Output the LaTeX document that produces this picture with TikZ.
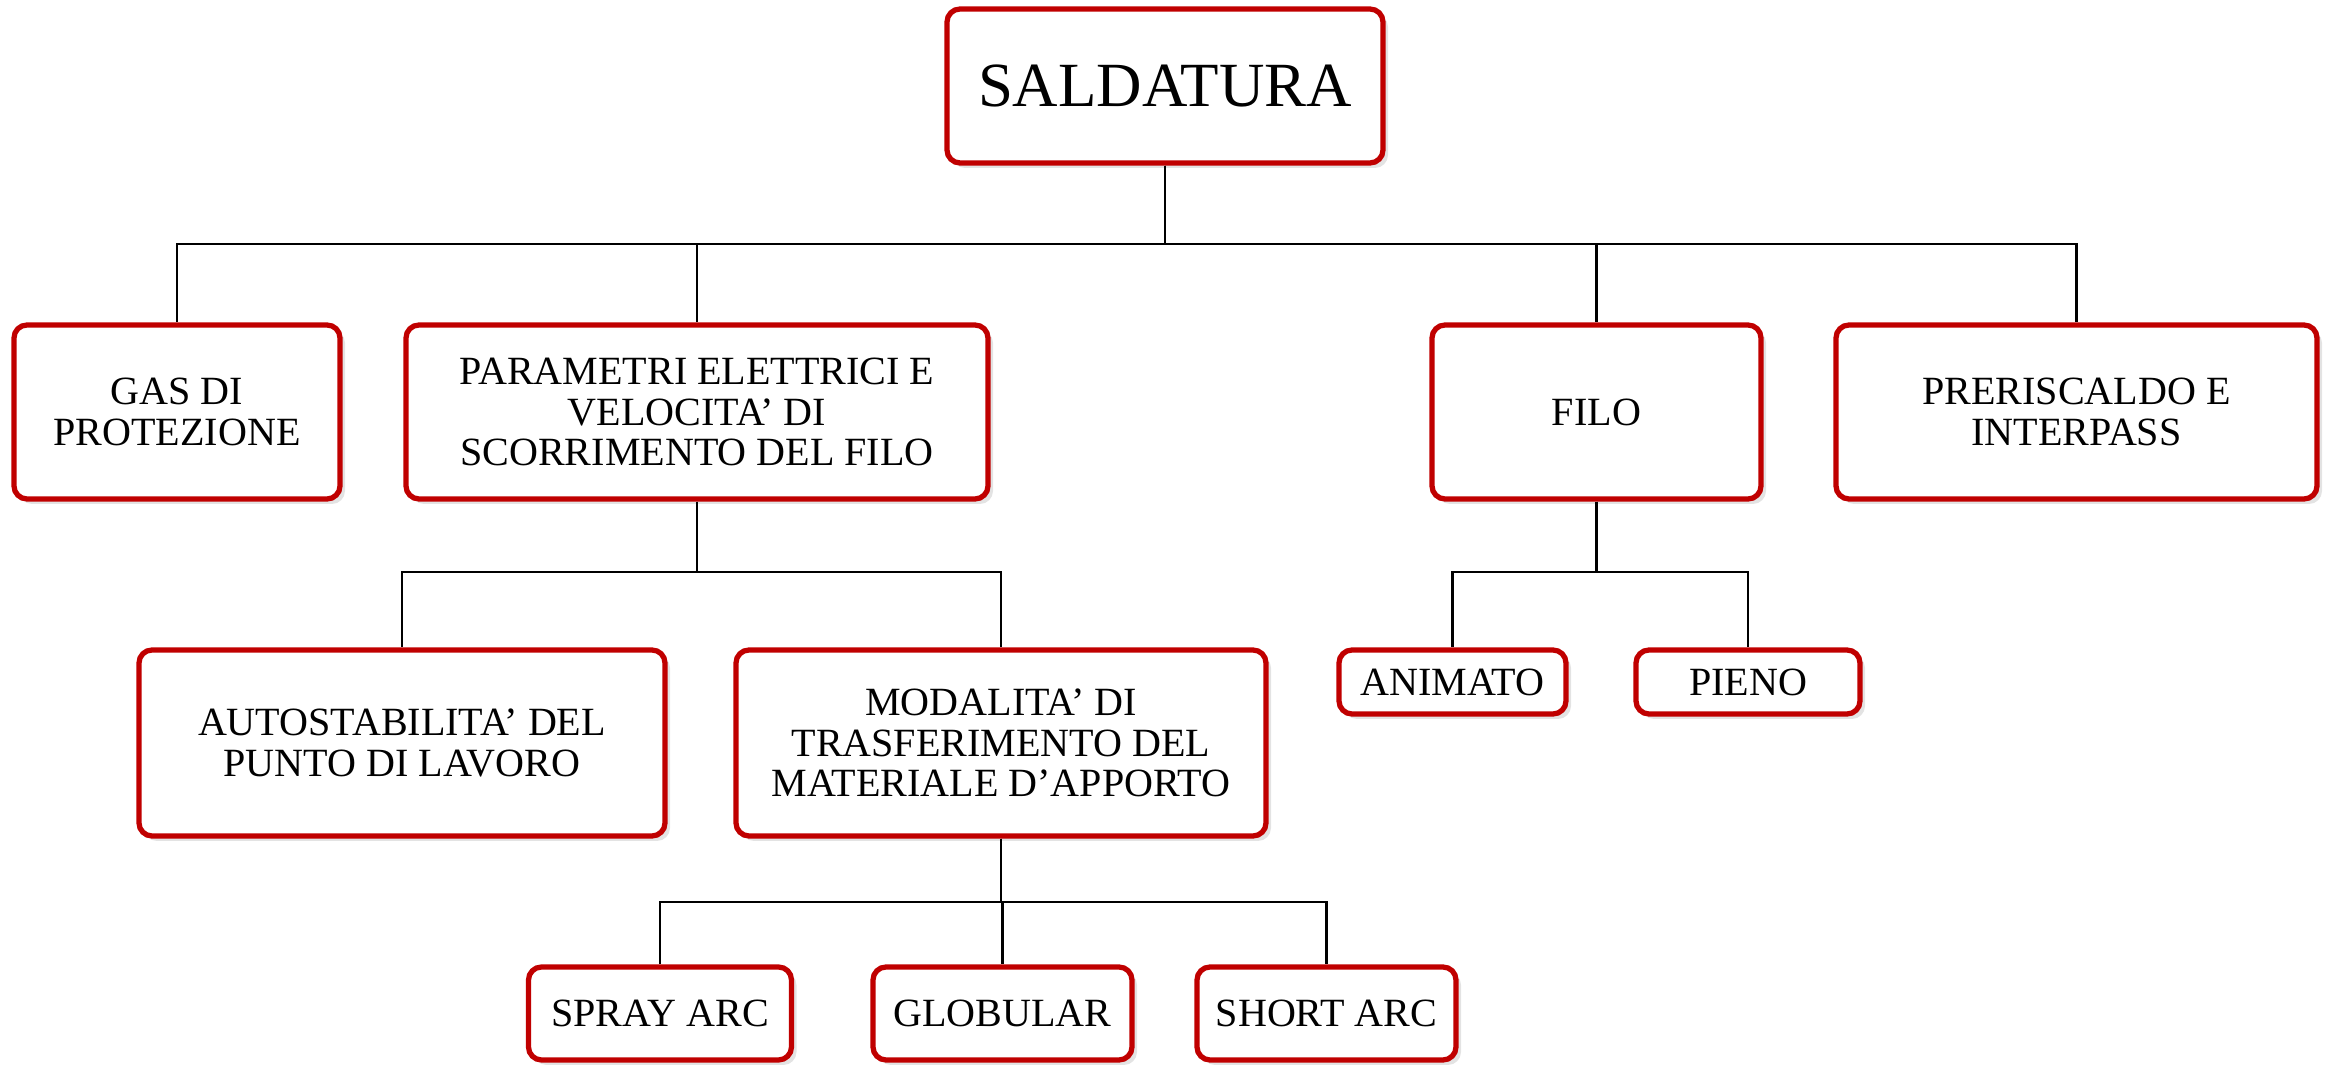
\documentclass[tikz,border=0pt]{standalone}
\usepackage{fontspec}
\setmainfont{Liberation Serif}
\usetikzlibrary{shadows}
\definecolor{BoxRed}{HTML}{C00000}
\tikzset{
  box/.style={rectangle,rounded corners=1.3mm,draw=BoxRed,line width=1.5pt,fill=white,
    align=center,inner sep=2pt,font=\fontsize{11.4}{11.6}\selectfont,
    drop shadow={opacity=.22,shadow xshift=.5mm,shadow yshift=-.5mm}},
  titlebox/.style={box,font=\fontsize{17.9}{20}\selectfont},
  size/.style 2 args={minimum width=#1cm,minimum height=#2cm},
  link/.style={draw=black,line width=.6pt}
}

\begin{document}
\begin{tikzpicture}[x=1cm,y=1cm]
  \useasboundingbox (0,0) rectangle (23.31,-10.66);
  % bus lines of the tree
  \coordinate (bus0) at (11.65,-2.44);
  \coordinate (bus1) at (6.97,-5.72);
  \coordinate (bus2) at (15.965,-5.72);
  \coordinate (bus3) at (10.01,-9.02);

  \node[titlebox,size={4.36}{1.54}] (saldatura) at (11.65,-0.86) {SALDATURA};

  \node[box,size={3.26}{1.74}] (gas) at (1.77,-4.12) {GAS DI\\PROTEZIONE};
  \node[box,size={5.82}{1.74}] (param) at (6.97,-4.12) {PARAMETRI ELETTRICI E\\VELOCITA’ DI\\SCORRIMENTO DEL FILO};
  \node[box,size={3.29}{1.74}] (filo) at (15.965,-4.12) {FILO};
  \node[box,size={4.81}{1.74}] (prerisc) at (20.765,-4.12) {PRERISCALDO E\\INTERPASS};

  \node[box,size={5.26}{1.86}] (auto) at (4.02,-7.43) {AUTOSTABILITA’ DEL\\PUNTO DI LAVORO};
  \node[box,size={5.30}{1.86}] (modal) at (10.01,-7.43) {MODALITA’ DI\\TRASFERIMENTO DEL\\MATERIALE D’APPORTO};
  \node[box,size={2.27}{0.64}] (animato) at (14.525,-6.82) {ANIMATO};
  \node[box,size={2.24}{0.64}] (pieno) at (17.48,-6.82) {PIENO};

  \node[box,size={2.63}{0.93}] (spray) at (6.60,-10.135) {SPRAY ARC};
  \node[box,size={2.59}{0.93}] (glob) at (10.025,-10.135) {GLOBULAR};
  \node[box,size={2.59}{0.93}] (short) at (13.265,-10.135) {SHORT ARC};

  \foreach \child in {gas,param,filo,prerisc}
    \draw[link] (saldatura.south) -- (bus0) -| (\child.north);
  \foreach \child in {auto,modal}
    \draw[link] (param.south) -- (bus1) -| (\child.north);
  \foreach \child in {animato,pieno}
    \draw[link] (filo.south) -- (bus2) -| (\child.north);
  \foreach \child in {spray,glob,short}
    \draw[link] (modal.south) -- (bus3) -| (\child.north);
\end{tikzpicture}
\end{document}
